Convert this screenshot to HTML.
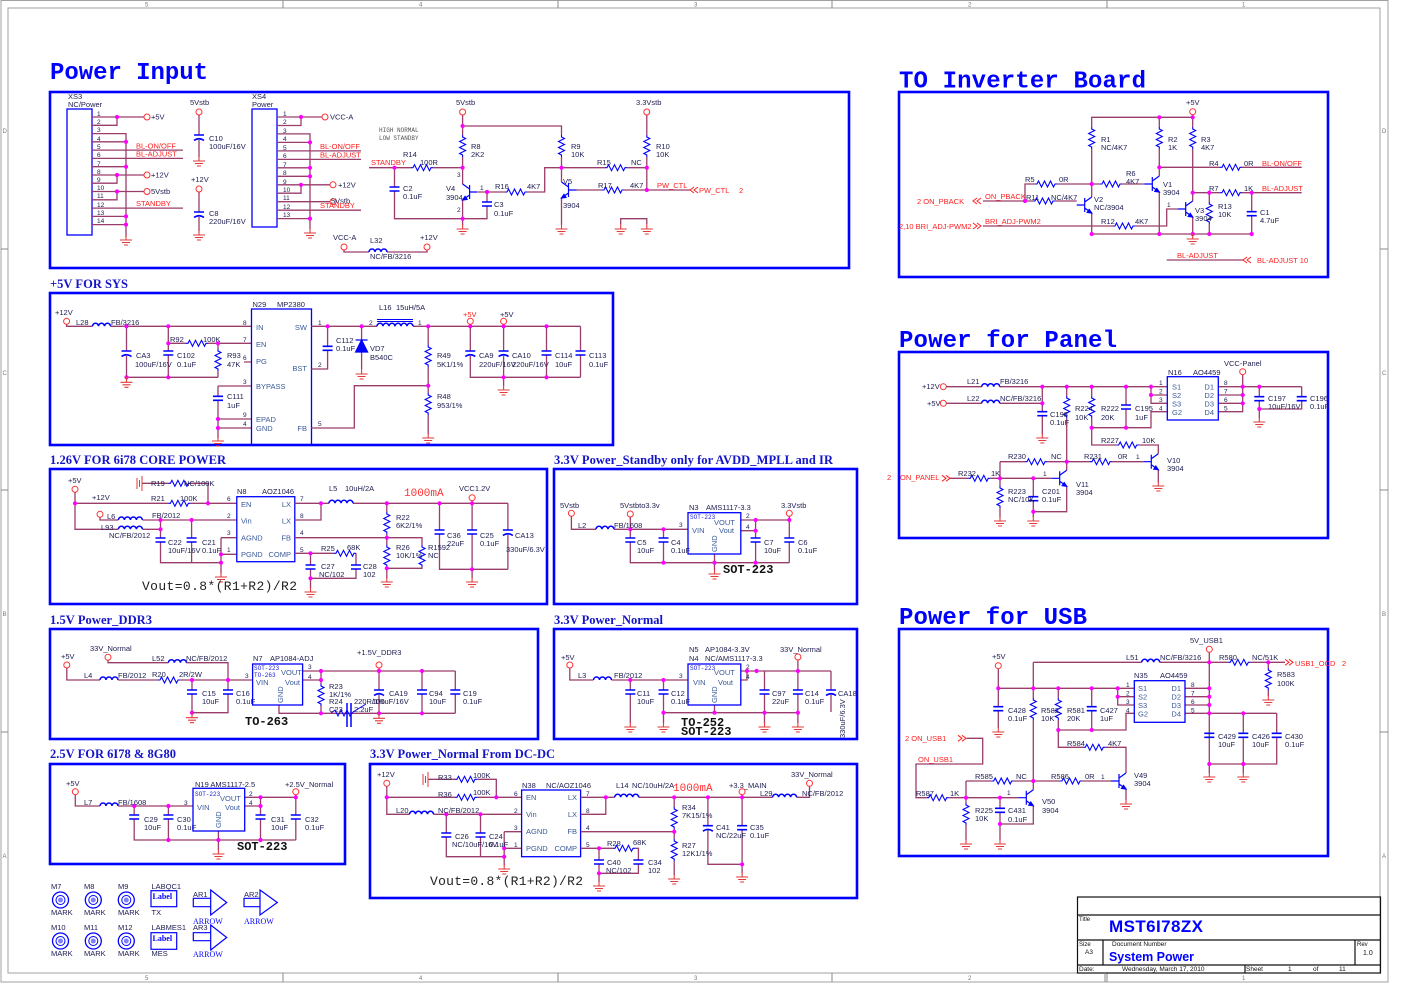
<!DOCTYPE html>
<html><head><meta charset="utf-8"><title>MST6I78ZX System Power</title>
<style>
html,body{margin:0;padding:0;background:#fff}
svg{display:block}
.t{font-family:"Liberation Sans",sans-serif;font-size:7.5px;fill:#1c1c50}
.n{font-family:"Liberation Sans",sans-serif;font-size:7.5px;fill:#ff2020}
.p{font-family:"Liberation Sans",sans-serif;font-size:6.5px;fill:#1c1c50}
.i{font-family:"Liberation Sans",sans-serif;font-size:7.5px;fill:#3a5a9a}
.sm{font-family:"Liberation Mono",monospace;font-size:6px;fill:#2020d0}
.bm{font-family:"Liberation Mono",monospace;font-size:12px;font-weight:bold;fill:#101010}
.T{font-family:"Liberation Mono",monospace;font-weight:bold;font-size:24px;fill:#0000ff}
.S{font-family:"Liberation Serif",serif;font-weight:bold;font-size:12.5px;fill:#1414c8}
.z{font-family:"Liberation Sans",sans-serif;font-size:6px;fill:#777}
.w{fill:none;stroke:#9a3d6b;stroke-width:1.3}
.bx{fill:none;stroke:#0000ff;stroke-width:2.6}
.ic{fill:none;stroke:#0000ff;stroke-width:1.3}
.ch{fill:none;stroke:#ff2020;stroke-width:1}
</style></head><body>
<svg width="1404" height="993" viewBox="0 0 1404 993" xmlns="http://www.w3.org/2000/svg">
<defs>
<polyline id="rv" points="0,0 0,2 3,3.5 -3,6.5 3,9.5 -3,12.5 3,15.5 -3,18.5 0,20 0,22" fill="none" stroke="#0000ff" stroke-width="1.1"/>
<polyline id="rh" points="0,0 2,0 3.5,-3 6.5,3 9.5,-3 12.5,3 15.5,-3 18.5,3 20,0 22,0" fill="none" stroke="#0000ff" stroke-width="1.1"/>
<path id="cv" d="M-5,0 H5 M-5,4 H5" fill="none" stroke="#0000ff" stroke-width="1.6"/>
<path id="cp" d="M-5,0 H5 M-5,5.5 Q0,2 5,5.5" fill="none" stroke="#0000ff" stroke-width="1.6"/>
<path id="gnd" d="M0,0 V5 M-6,5 H6 M-4,7.5 H4 M-2,10 H2" fill="none" stroke="#e03a3a" stroke-width="1.1"/>
<path id="ind" d="M0,0 a3,3 0 0 1 6,0 a3,3 0 0 1 6,0 a3,3 0 0 1 6,0" fill="none" stroke="#0000ff" stroke-width="1.5"/>
<path id="ind4" d="M0,0 a3,3 0 0 1 6,0 a3,3 0 0 1 6,0 a3,3 0 0 1 6,0 a3,3 0 0 1 6,0" fill="none" stroke="#0000ff" stroke-width="1.5"/>
<g id="npn" fill="none" stroke="#0000ff" stroke-width="1.2"><path d="M-8,0 H0 M0,-7 V7 M0,-3 L7,-8 M0,3 L7,8"/><path d="M7,8 l-4.5,-0.6 l2,-3 z" fill="#0000ff"/></g>
<circle id="d" r="2.1" fill="#ff00ff"/>
<circle id="o" r="3" fill="#fff" stroke="#ff3030" stroke-width="1"/>
<path id="cr" d="M0,-3 l4,3 l-4,3 M4,-3 l4,3 l-4,3" fill="none" stroke="#ff2020" stroke-width="1"/>
<path id="cl" d="M8,-3 l-4,3 l4,3 M4,-3 l-4,3 l4,3" fill="none" stroke="#ff2020" stroke-width="1"/>
<g id="mk"><circle r="8" fill="none" stroke="#0000ff" stroke-width="1.3"/><circle r="4.5" fill="none" stroke="#0000ff" stroke-width="1"/><circle r="2.5" fill="#8080ff"/></g>
</defs>

<!-- frame -->
<rect x="1" y="0.5" width="1387" height="981.5" fill="none" stroke="#a0a0a0" stroke-width="1"/>
<rect x="8" y="8" width="1372" height="965" fill="none" stroke="#a0a0a0" stroke-width="1"/>
<path d="M283,0.5V8 M558,0.5V8 M832,0.5V8 M1107,0.5V8 M283,973V982 M558,973V982 M832,973V982 M1107,973V982 M1,249H8 M1,490H8 M1,732H8 M1380,249H1388 M1380,490H1388 M1380,732H1388" stroke="#888" stroke-width="1"/>
<text class="z" x="145" y="6.5">5</text><text class="z" x="419" y="6.5">4</text><text class="z" x="694" y="6.5">3</text><text class="z" x="968" y="6.5">2</text><text class="z" x="1242" y="6.5">1</text>
<text class="z" x="145" y="980">5</text><text class="z" x="419" y="980">4</text><text class="z" x="694" y="980">3</text><text class="z" x="968" y="980">2</text><text class="z" x="1242" y="980">1</text>
<text class="z" x="2.5" y="133">D</text><text class="z" x="2.5" y="375">C</text><text class="z" x="2.5" y="616">B</text><text class="z" x="2.5" y="858">A</text>
<text class="z" x="1382" y="133">D</text><text class="z" x="1382" y="375">C</text><text class="z" x="1382" y="616">B</text><text class="z" x="1382" y="858">A</text>

<!-- ============ POWER INPUT ============ -->
<text class="T" x="50" y="79" textLength="158">Power Input</text>
<rect class="bx" x="50" y="92" width="799" height="176"/>
<rect class="ic" x="67" y="109" width="25" height="126"/>
<text class="t" x="68" y="99">XS3</text><text class="t" x="68" y="107">NC/Power</text>
<g class="p"><text x="97" y="116">1</text><text x="97" y="124">2</text><text x="97" y="132">3</text><text x="97" y="141">4</text><text x="97" y="149">5</text><text x="97" y="157">6</text><text x="97" y="166">7</text><text x="97" y="174">8</text><text x="97" y="182">9</text><text x="97" y="190">10</text><text x="97" y="198">11</text><text x="97" y="207">12</text><text x="97" y="215">13</text><text x="97" y="223">14</text></g>
<path class="w" d="M92,117H144 M92,125.3H117V117 M92,133.6H126V237 M92,141.8H126 M92,150.1H183 M92,158.4H183 M92,166.7H126 M92,175H144 M92,183.2H117V175 M92,191.5H144 M92,199.8H117V191.5 M92,208.1H183 M92,216.4H126 M92,224.6H126"/>
<use href="#d" x="117" y="117"/><use href="#d" x="126" y="141.8"/><use href="#d" x="126" y="166.7"/><use href="#d" x="117" y="175"/><use href="#d" x="117" y="191.5"/><use href="#d" x="126" y="216.4"/><use href="#d" x="126" y="224.6"/>
<use href="#o" x="147" y="117"/><use href="#o" x="147" y="175"/><use href="#o" x="147" y="191.5"/>
<text class="t" x="151" y="119.5">+5V</text><text class="t" x="151" y="177.5">+12V</text><text class="t" x="151" y="194">5Vstb</text>
<text class="n" x="136" y="148.5">BL-ON/OFF</text><text class="n" x="136" y="156.5">BL-ADJUST</text><text class="n" x="136" y="206">STANDBY</text>
<use href="#gnd" x="126" y="235"/>
<!-- C10 C8 -->
<text class="t" x="190" y="105">5Vstb</text><use href="#o" x="199" y="112"/>
<path class="w" d="M199,115V135 M199,140V157"/><use href="#cp" x="199" y="135"/><use href="#gnd" x="199" y="156"/>
<text class="t" x="209" y="141">C10</text><text class="t" x="209" y="149">100uF/16V</text>
<text class="t" x="191" y="182">+12V</text><use href="#o" x="199" y="189"/>
<path class="w" d="M199,192V212 M199,217V231"/><use href="#cp" x="199" y="212"/><use href="#gnd" x="199" y="230"/>
<text class="t" x="209" y="216">C8</text><text class="t" x="209" y="224">220uF/16V</text>
<!-- XS4 -->
<rect class="ic" x="252" y="109" width="25" height="118"/>
<text class="t" x="252" y="99">XS4</text><text class="t" x="252" y="107">Power</text>
<g class="p"><text x="283" y="116">1</text><text x="283" y="124">2</text><text x="283" y="133">3</text><text x="283" y="141">4</text><text x="283" y="150">5</text><text x="283" y="158">6</text><text x="283" y="167">7</text><text x="283" y="175">8</text><text x="283" y="184">9</text><text x="283" y="192">10</text><text x="283" y="200">11</text><text x="283" y="209">12</text><text x="283" y="217">13</text></g>
<path class="w" d="M277,117H322 M277,125.5H301V117 M277,133.9H310V229 M277,142.4H310 M277,150.9H361 M277,159.4H361 M277,167.8H310 M277,176.3H310 M277,184.8H330 M277,193.2H301V184.8 M277,201.7H330 M277,210.2H361 M277,218.6H310"/>
<use href="#d" x="301" y="117"/><use href="#d" x="310" y="142.4"/><use href="#d" x="310" y="167.8"/><use href="#d" x="310" y="176.3"/><use href="#d" x="301" y="184.8"/><use href="#d" x="310" y="218.6"/>
<use href="#o" x="325" y="117"/><use href="#o" x="333" y="184.8"/><use href="#o" x="333" y="201.7"/>
<text class="t" x="330" y="119.5">VCC-A</text><text class="t" x="338" y="187.5">+12V</text><text class="t" x="331" y="203.5">5Vstb</text>
<text class="n" x="320" y="149">BL-ON/OFF</text><text class="n" x="320" y="157.5">BL-ADJUST</text><text class="n" x="320" y="208">STANDBY</text>
<use href="#gnd" x="310" y="228"/>
<!-- standby circuit -->
<text class="sm" x="379" y="132" style="fill:#555">HIGH NORMAL</text><text class="sm" x="379" y="140" style="fill:#555">LOW  STANDBY</text>
<path class="w" d="M369,167.7H411 M433,167.7H462.6 M394.5,167.7V187 M394.5,191V218.7H487V206 M462.6,115V135 M462.6,157V184 M462.6,200V225 M462.6,126H561.5V135 M478,192H505 M527,192H544.7V167.7H605 M627,167.7H646.8 M487,192V202"/>
<use href="#rh" x="411" y="167.7"/><use href="#cv" x="394.5" y="187"/><use href="#rv" x="462.6" y="135"/><use href="#rh" x="505" y="192"/><use href="#cv" x="487" y="202"/>
<use href="#d" x="394.5" y="167.7"/><use href="#d" x="462.6" y="126"/><use href="#d" x="462.6" y="167.7"/><use href="#d" x="487" y="192"/><use href="#d" x="462.6" y="218.7"/>
<use href="#npn" transform="translate(469.6,192) scale(-1,1)"/>
<use href="#gnd" x="462.6" y="224"/>
<text class="n" x="371" y="165">STANDBY</text><text class="t" x="403" y="157">R14</text><text class="t" x="420" y="165">100R</text>
<text class="t" x="403" y="191">C2</text><text class="t" x="403" y="199">0.1uF</text>
<text class="t" x="456" y="105">5Vstb</text><use href="#o" x="462.6" y="112"/>
<text class="t" x="471" y="149">R8</text><text class="t" x="471" y="157">2K2</text>
<text class="t" x="446" y="191">V4</text><text class="t" x="446" y="200">3904</text>
<text class="p" x="457" y="177">3</text><text class="p" x="480" y="190">1</text><text class="p" x="457" y="212">2</text>
<text class="t" x="495" y="189">R16</text><text class="t" x="527" y="189">4K7</text>
<text class="t" x="494" y="207">C3</text><text class="t" x="494" y="216">0.1uF</text>
<!-- V5 -->
<path class="w" d="M561.5,157V182 M561.5,198V225 M576.5,190H602 M624,190H690 M646.8,115V135 M646.8,157V190"/>
<use href="#rv" x="561.5" y="135"/><use href="#rh" x="605" y="167.7"/><use href="#rh" x="602" y="190"/><use href="#rv" x="646.8" y="135"/>
<use href="#npn" transform="translate(568.5,190) scale(-1,1)"/>
<use href="#d" x="561.5" y="167.7"/><use href="#d" x="646.8" y="167.7"/><use href="#d" x="646.8" y="190"/>
<use href="#gnd" x="561.5" y="224"/>
<text class="t" x="571" y="149">R9</text><text class="t" x="571" y="157">10K</text>
<text class="t" x="597" y="165">R15</text><text class="t" x="631" y="165">NC</text>
<text class="t" x="636" y="105">3.3Vstb</text><use href="#o" x="646.8" y="112"/>
<text class="t" x="656" y="149">R10</text><text class="t" x="656" y="157">10K</text>
<text class="t" x="563" y="184">V5</text><text class="t" x="563" y="208">3904</text>
<text class="t" x="598" y="188">R17</text><text class="t" x="630" y="188">4K7</text>
<text class="n" x="657" y="188">PW_CTL</text><use href="#cl" x="690" y="190"/><text class="n" x="699" y="193">PW_CTL</text><text class="n" x="739" y="193">2</text>
<path class="w" d="M620.7,224V218.7H646.8V224"/><use href="#gnd" x="620.7" y="224"/><use href="#gnd" x="646.8" y="224"/>
<!-- L32 -->
<text class="t" x="333" y="240">VCC-A</text><use href="#o" x="344" y="247"/>
<path class="w" d="M344,250V252H369 M387,252H427V250"/><use href="#ind" x="369" y="252"/>
<use href="#o" x="427" y="247"/><text class="t" x="420" y="240">+12V</text>
<text class="t" x="370" y="243">L32</text><text class="t" x="370" y="259">NC/FB/3216</text>

<!-- ============ TO INVERTER BOARD ============ -->
<text class="T" x="899" y="87.5" textLength="247">TO Inverter Board</text>
<rect class="bx" x="899" y="92" width="429" height="185"/>
<text class="t" x="1186" y="105">+5V</text><use href="#o" x="1192.7" y="111.7"/>
<path class="w" d="M1091.7,127V117.3H1192.7V114.7 M1159.3,117.3V127 M1192.7,117.3V127 M1091.7,149V197 M1159.3,149V176 M1192.7,149V201 M1159.3,167.3H1220 M1242,167.3H1301.7 M1025,201V184H1035 M1057,184H1100 M1122,184H1144.3 M983,201H1033 M1055,201H1076.7 M983,226H1113 M1135,226H1166.7V209H1177.7 M1192.7,192.7H1220 M1242,192.7H1301.7 M1209.3,192.7V202 M1209.3,224V234 M1251.7,192.7V211.7 M1251.7,215.7V234 M1091.7,213V234H1251.7 M1159.3,192V234 M1192.7,217V234 M1166.7,260H1243"/>
<use href="#rv" x="1091.7" y="127"/><use href="#rv" x="1159.3" y="127"/><use href="#rv" x="1192.7" y="127"/>
<use href="#rh" x="1220" y="167.3"/><use href="#rh" x="1035" y="184"/><use href="#rh" x="1100" y="184"/><use href="#rh" x="1033" y="201"/><use href="#rh" x="1113" y="226"/><use href="#rh" x="1220" y="192.7"/>
<use href="#rv" x="1209.3" y="202"/><use href="#cv" x="1251.7" y="211.7"/>
<use href="#npn" x="1152.3" y="184"/><use href="#npn" x="1084.7" y="205"/><use href="#npn" x="1185.7" y="209"/>
<use href="#d" x="1159.3" y="117.3"/><use href="#d" x="1192.7" y="117.3"/><use href="#d" x="1159.3" y="167.3"/><use href="#d" x="1091.7" y="184"/><use href="#d" x="1025" y="201"/><use href="#d" x="1192.7" y="192.7"/><use href="#d" x="1209.3" y="192.7"/><use href="#d" x="1251.7" y="192.7"/><use href="#d" x="1159.3" y="234"/><use href="#d" x="1192.7" y="234"/><use href="#d" x="1209.3" y="234"/><use href="#d" x="1251.7" y="234"/><use href="#d" x="1091.7" y="234"/>
<use href="#gnd" x="1192.7" y="234"/>
<text class="t" x="1101" y="142">R1</text><text class="t" x="1101" y="150">NC/4K7</text>
<text class="t" x="1168" y="142">R2</text><text class="t" x="1168" y="150">1K</text>
<text class="t" x="1201" y="142">R3</text><text class="t" x="1201" y="150">4K7</text>
<text class="t" x="1209" y="166">R4</text><text class="t" x="1244" y="166">0R</text><text class="n" x="1262" y="166">BL-ON/OFF</text>
<text class="t" x="1025" y="182">R5</text><text class="t" x="1059" y="182">0R</text>
<text class="t" x="1126" y="176">R6</text><text class="t" x="1126" y="184">4K7</text>
<text class="t" x="1163" y="187">V1</text><text class="t" x="1163" y="195">3904</text>
<text class="n" x="917" y="204">2  ON_PBACK</text><use href="#cl" x="973" y="201"/><text class="n" x="985" y="199">ON_PBACK</text>
<text class="t" x="1026" y="200">R11</text><text class="t" x="1051" y="200">NC/4K7</text>
<text class="t" x="1094" y="202">V2</text><text class="t" x="1094" y="210">NC/3904</text>
<text class="n" x="899" y="229">2,10  BRI_ADJ-PWM2</text><use href="#cr" x="973" y="226"/><text class="n" x="985" y="224">BRI_ADJ-PWM2</text>
<text class="t" x="1101" y="224">R12</text><text class="t" x="1135" y="224">4K7</text>
<text class="p" x="1167" y="207">1</text><text class="t" x="1195" y="213">V3</text><text class="t" x="1195" y="221">3904</text>
<text class="t" x="1209" y="191">R7</text><text class="t" x="1244" y="191">1K</text><text class="n" x="1262" y="191">BL-ADJUST</text>
<text class="t" x="1218" y="209">R13</text><text class="t" x="1218" y="217">10K</text>
<text class="t" x="1260" y="215">C1</text><text class="t" x="1260" y="223">4.7uF</text>
<text class="n" x="1177" y="258">BL-ADJUST</text><use href="#cl" x="1243" y="260"/><text class="n" x="1257" y="263">BL-ADJUST   10</text>

<!-- ============ +5V FOR SYS ============ -->
<text class="S" x="50" y="288" textLength="78">+5V FOR SYS</text>
<rect class="bx" x="50" y="293" width="563" height="152"/>
<text class="t" x="55" y="315">+12V</text><use href="#o" x="66.6" y="321.3"/>
<path class="w" d="M66.6,324.3V326.3H92.5 M110.5,326.3H251.5 M126.5,326.3V351 M126.5,356V377.3H218 M168.3,326.3V351 M168.3,355V377.3 M168.3,343.3H186 M208,343.3H251.5 M218,343.3V349 M218,371V377.3 M218,386H251.5 M218,386V396.3 M218,400.3V438 M218,419H251.5 M218,428H251.5 M244,362H251.5"/>
<use href="#ind" x="92.5" y="326.3"/><use href="#cp" x="126.5" y="351"/><use href="#cv" x="168.3" y="351"/><use href="#rh" x="186" y="343.3"/><use href="#rv" x="218" y="349"/><use href="#cv" x="218" y="396.3"/>
<use href="#d" x="126.5" y="326.3"/><use href="#d" x="168.3" y="326.3"/><use href="#d" x="168.3" y="343.3"/><use href="#d" x="218" y="343.3"/><use href="#d" x="126.5" y="377.3"/><use href="#d" x="168.3" y="377.3"/><use href="#d" x="218" y="419"/><use href="#d" x="218" y="428"/>
<use href="#gnd" x="126.5" y="377.3"/><use href="#gnd" x="218" y="436"/>
<text class="t" x="76" y="325">L28</text><text class="t" x="111" y="325">FB/3216</text>
<text class="t" x="136" y="358">CA3</text><text class="t" x="135" y="367">100uF/16V</text>
<text class="t" x="177" y="358">C102</text><text class="t" x="177" y="367">0.1uF</text>
<text class="t" x="170" y="342">R92</text><text class="t" x="203" y="342">100K</text>
<text class="t" x="227" y="358">R93</text><text class="t" x="227" y="367">47K</text>
<text class="t" x="227" y="399">C111</text><text class="t" x="227" y="408">1uF</text>
<rect class="ic" x="251.5" y="309" width="60" height="136"/>
<text class="t" x="252.5" y="307">N29</text><text class="t" x="277" y="307">MP2380</text>
<text class="i" x="256" y="330">IN</text><text class="i" x="256" y="347">EN</text><text class="i" x="256" y="364">PG</text><text class="i" x="256" y="389">BYPASS</text><text class="i" x="256" y="422">EPAD</text><text class="i" x="256" y="431">GND</text>
<text class="i" x="307" y="330" text-anchor="end">SW</text><text class="i" x="307" y="371" text-anchor="end">BST</text><text class="i" x="307" y="431" text-anchor="end">FB</text>
<g class="p"><text x="243" y="325">8</text><text x="243" y="342">7</text><text x="243" y="360">6</text><text x="243" y="384">3</text><text x="243" y="417">9</text><text x="243" y="426">4</text><text x="318" y="325">1</text><text x="318" y="367">2</text><text x="318" y="426">5</text><text x="369" y="325">2</text><text x="418" y="325">1</text></g>
<path class="w" d="M311.4,326.3H377 M413,326.3H580.5 M327.6,326.3V346.3 M327.6,350.3V369H311.4 M361.6,326.3V340 M361.6,352V369 M428.2,326.3V345 M428.2,367V393 M428.2,415V434 M311.4,428H354.3V385.7H428.2 M470.3,324.3V351 M470.3,356V377.3H580.5 M503.6,324.3V351 M503.6,356V386 M546.5,326.3V351 M546.5,355V377.3 M580.5,326.3V351 M580.5,355V377.3"/>
<use href="#ind" x="377" y="326.3"/><use href="#ind" x="395" y="326.3"/>
<path d="M377,319.5H413 M377,321.5H413" stroke="#0000ff" stroke-width="1"/>
<use href="#cv" x="327.6" y="346.3"/>
<path d="M355.6,340H367.6 M361.6,340L355.6,352H367.6Z" fill="#0000ff" stroke="#0000ff" stroke-width="1.2"/>
<use href="#rv" x="428.2" y="345"/><use href="#rv" x="428.2" y="393"/>
<use href="#cp" x="470.3" y="351"/><use href="#cp" x="503.6" y="351"/><use href="#cv" x="546.5" y="351"/><use href="#cv" x="580.5" y="351"/>
<use href="#d" x="327.6" y="326.3"/><use href="#d" x="361.6" y="326.3"/><use href="#d" x="428.2" y="326.3"/><use href="#d" x="470.3" y="326.3"/><use href="#d" x="503.6" y="326.3"/><use href="#d" x="546.5" y="326.3"/><use href="#d" x="428.2" y="385.7"/><use href="#d" x="503.6" y="377.3"/><use href="#d" x="546.5" y="377.3"/>
<use href="#gnd" x="361.6" y="369"/><use href="#gnd" x="428.2" y="433"/><use href="#gnd" x="503.6" y="385"/>
<text class="t" x="379" y="310">L16</text><text class="t" x="396" y="310">15uH/5A</text>
<text class="t" x="336" y="343">C112</text><text class="t" x="336" y="351">0.1uF</text>
<text class="t" x="370" y="351">VD7</text><text class="t" x="370" y="360">B540C</text>
<text class="t" x="437" y="358">R49</text><text class="t" x="437" y="367">5K1/1%</text>
<text class="t" x="437" y="399">R48</text><text class="t" x="437" y="408">953/1%</text>
<text class="n" x="463" y="317">+5V</text><use href="#o" x="470.3" y="321.3"/>
<text class="t" x="500" y="317">+5V</text><use href="#o" x="503.6" y="321.3"/>
<text class="t" x="479" y="358">CA9</text><text class="t" x="479" y="367">220uF/16V</text>
<text class="t" x="512" y="358">CA10</text><text class="t" x="512" y="367">220uF/16V</text>
<text class="t" x="555" y="358">C114</text><text class="t" x="555" y="367">10uF</text>
<text class="t" x="589" y="358">C113</text><text class="t" x="589" y="367">0.1uF</text>

<!-- ============ POWER FOR PANEL ============ -->
<text class="T" x="899" y="347" textLength="218">Power for Panel</text>
<rect class="bx" x="899" y="352" width="429" height="186"/>
<text class="t" x="922" y="389">+12V</text><use href="#o" x="943.3" y="386.7"/>
<text class="t" x="927" y="406">+5V</text><use href="#o" x="943.3" y="403.3"/>
<path class="w" d="M946.3,386.7H981.7 M999.7,386.7H1167.3 M946.3,403.3H981.7 M999.7,403.3H1042.3 M1042.3,386.7V411.7 M1042.3,415.7V434 M1066.7,386.7V396 M1066.7,418V461.7 M1091.7,386.7V396 M1091.7,418V445H1116.7 M1138.7,445H1158.3V453.7 M1126,386.7V405 M1126,409V427.7 M1091.7,427.7H1151V411.7H1167.3 M1151,386.7V403.3H1167.3 M1151,395H1167.3 M1218.3,386.7H1301.7 M1218.3,395H1242.7 M1218.3,403.3H1242.7 M1218.3,411.7H1242.7V374.7 M1259.3,386.7V396.7 M1259.3,400.7V418 M1301.7,386.7V396.7 M1301.7,400.7V409H1259.3"/>
<use href="#ind" x="981.7" y="386.7"/><use href="#ind" x="981.7" y="403.3"/><use href="#cv" x="1042.3" y="411.7"/><use href="#rv" x="1066.7" y="396"/><use href="#rv" x="1091.7" y="396"/><use href="#cv" x="1126" y="405"/><use href="#rh" x="1116.7" y="445"/><use href="#cv" x="1259.3" y="396.7"/><use href="#cv" x="1301.7" y="396.7"/>
<use href="#d" x="1042.3" y="386.7"/><use href="#d" x="1066.7" y="386.7"/><use href="#d" x="1091.7" y="386.7"/><use href="#d" x="1126" y="386.7"/><use href="#d" x="1151" y="386.7"/><use href="#d" x="1151" y="395"/><use href="#d" x="1042.3" y="403.3"/><use href="#d" x="1091.7" y="427.7"/><use href="#d" x="1126" y="427.7"/><use href="#d" x="1242.7" y="386.7"/><use href="#d" x="1242.7" y="395"/><use href="#d" x="1242.7" y="403.3"/><use href="#d" x="1259.3" y="386.7"/><use href="#d" x="1259.3" y="409"/>
<use href="#gnd" x="1042.3" y="433"/><use href="#gnd" x="1259.3" y="417"/>
<text class="t" x="967" y="384">L21</text><text class="t" x="1000" y="384">FB/3216</text>
<text class="t" x="967" y="401">L22</text><text class="t" x="1000" y="401">NC/FB/3216</text>
<text class="t" x="1050" y="417">C198</text><text class="t" x="1050" y="425">0.1uF</text>
<text class="t" x="1075" y="411">R224</text><text class="t" x="1075" y="420">10K</text>
<text class="t" x="1101" y="411">R222</text><text class="t" x="1101" y="420">20K</text>
<text class="t" x="1135" y="411">C195</text><text class="t" x="1135" y="420">1uF</text>
<rect class="ic" x="1167.3" y="376.7" width="51" height="43.3"/>
<text class="t" x="1168" y="375">N16</text><text class="t" x="1193" y="375">AO4459</text>
<text class="i" x="1172" y="389.5">S1</text><text class="i" x="1172" y="398">S2</text><text class="i" x="1172" y="406.5">S3</text><text class="i" x="1172" y="415">G2</text>
<text class="i" x="1214" y="389.5" text-anchor="end">D1</text><text class="i" x="1214" y="398" text-anchor="end">D2</text><text class="i" x="1214" y="406.5" text-anchor="end">D3</text><text class="i" x="1214" y="415" text-anchor="end">D4</text>
<g class="p"><text x="1159" y="385">1</text><text x="1159" y="393.5">2</text><text x="1159" y="402">3</text><text x="1159" y="410.5">4</text><text x="1224" y="385">8</text><text x="1224" y="393.5">7</text><text x="1224" y="402">6</text><text x="1224" y="410.5">5</text></g>
<text class="t" x="1224" y="366">VCC-Panel</text><use href="#o" x="1242.7" y="371.7"/>
<text class="t" x="1268" y="401">C197</text><text class="t" x="1268" y="409">10uF/16V</text>
<text class="t" x="1310" y="401">C196</text><text class="t" x="1310" y="409">0.1uF</text>
<text class="t" x="1101" y="443">R227</text><text class="t" x="1142" y="443">10K</text>
<path class="w" d="M1000,461.7H1025 M1047,461.7H1090 M1112,461.7H1143.3 M1000,461.7V478.3 M950,478.3H968.3 M990.3,478.3H1051.7 M1066.7,461.7V470.3 M1066.7,486.3V511.7H1033.3 M1158.3,469.7V482 M1000,478.3V486 M1000,508V517 M1033.3,478.3V496.7 M1033.3,500.7V517"/>
<use href="#rh" x="1025" y="461.7"/><use href="#rh" x="1090" y="461.7"/><use href="#rh" x="968.3" y="478.3"/><use href="#rv" x="1000" y="486"/><use href="#cv" x="1033.3" y="496.7"/>
<use href="#npn" x="1151.3" y="461.7"/><use href="#npn" x="1059.7" y="478.3"/>
<use href="#d" x="1066.7" y="461.7"/><use href="#d" x="1000" y="478.3"/><use href="#d" x="1033.3" y="478.3"/><use href="#d" x="1033.3" y="511.7"/>
<use href="#gnd" x="1158.3" y="481"/><use href="#gnd" x="1000" y="516"/><use href="#gnd" x="1033.3" y="516"/>
<text class="t" x="1008" y="459">R230</text><text class="t" x="1051" y="459">NC</text>
<text class="t" x="1084" y="459">R231</text><text class="t" x="1118" y="459">0R</text><text class="p" x="1136" y="459">1</text>
<text class="t" x="1167" y="463">V10</text><text class="t" x="1167" y="471">3904</text>
<text class="n" x="887" y="480">2</text><text class="n" x="900" y="480">ON_PANEL</text><use href="#cr" x="942" y="478.3"/>
<text class="t" x="958" y="476">R232</text><text class="t" x="991" y="476">1K</text><text class="p" x="1043" y="476">1</text>
<text class="t" x="1076" y="487">V11</text><text class="t" x="1076" y="495">3904</text>
<text class="t" x="1008" y="494">R223</text><text class="t" x="1008" y="502">NC/10K</text>
<text class="t" x="1042" y="494">C201</text><text class="t" x="1042" y="502">0.1uF</text>

<!-- ============ 1.26V CORE ============ -->
<text class="S" x="50" y="464" textLength="176">1.26V FOR 6i78 CORE POWER</text>
<rect class="bx" x="50" y="469" width="497" height="135"/>
<text class="t" x="68" y="483">+5V</text><use href="#o" x="75" y="489.3"/>
<path class="w" d="M75,492.3V529.3H118.4 M142.4,529.3H160.5V520 M75,503.3H168.4 M190.4,503.3H236.8 M142,483.3H168.4 M190.4,483.3H208V503.3 M100,517.3V520H118.4 M142.4,520H236.8 M160.5,529.3V538 M160.5,542V562.7H221 M191.6,520V538 M191.6,542V562.7 M221,537.7V573 M221,537.7H236.8 M221,554.3H236.8"/>
<path d="M137,478V489 M139.5,480V487 M142,476V491" stroke="#e03a3a" stroke-width="1"/>
<use href="#rh" x="168.4" y="483.3"/><use href="#rh" x="168.4" y="503.3"/><use href="#ind4" x="118.4" y="520"/><use href="#ind4" x="118.4" y="529.3"/><use href="#cv" x="160.5" y="538"/><use href="#cv" x="191.6" y="538"/>
<use href="#d" x="75" y="503.3"/><use href="#d" x="208" y="503.3"/><use href="#d" x="160.5" y="520"/><use href="#d" x="191.6" y="520"/><use href="#d" x="160.5" y="529.3"/><use href="#d" x="221" y="554.3"/><use href="#d" x="221" y="562.7"/>
<use href="#gnd" x="221" y="572"/>
<text class="t" x="151" y="486">R19</text><text class="t" x="184" y="486">NC/100K</text>
<text class="t" x="151" y="501">R21</text><text class="t" x="180" y="501">100K</text>
<text class="t" x="92" y="500">+12V</text><use href="#o" x="100" y="514.3"/>
<text class="t" x="107" y="519">L6</text><text class="t" x="152" y="518">FB/2012</text>
<text class="t" x="101" y="530">L93</text><text class="t" x="109" y="538">NC/FB/2012</text>
<text class="t" x="168" y="545">C22</text><text class="t" x="168" y="553">10uF/16V</text>
<text class="t" x="202" y="545">C21</text><text class="t" x="202" y="553">0.1uF</text>
<rect class="ic" x="236.8" y="496.7" width="58" height="65"/>
<text class="t" x="237" y="494">N8</text><text class="t" x="262" y="494">AOZ1046</text>
<text class="i" x="241" y="507">EN</text><text class="i" x="241" y="523.5">Vin</text><text class="i" x="241" y="540.5">AGND</text><text class="i" x="241" y="557">PGND</text>
<text class="i" x="291" y="507" text-anchor="end">LX</text><text class="i" x="291" y="523.5" text-anchor="end">LX</text><text class="i" x="291" y="540.5" text-anchor="end">FB</text><text class="i" x="291" y="557" text-anchor="end">COMP</text>
<g class="p"><text x="227" y="501">6</text><text x="227" y="518">2</text><text x="227" y="535">3</text><text x="227" y="552">1</text><text x="300" y="501">7</text><text x="300" y="518">8</text><text x="300" y="535">4</text><text x="300" y="552">5</text></g>
<path class="w" d="M294.8,503.3H329 M353,503.3H507.9 M294.8,520H321V503.3 M386.8,503.3V512 M386.8,534V545 M386.8,567V578 M294.8,537.7H422V545 M422,567V568.3H386.8 M439.5,503.3V530 M439.5,534V569.3H507.9 M472.1,500.7V530 M472.1,534V578 M507.9,503.3V530 M507.9,535V569.3 M294.8,553.3H334 M356,553.3V565 M310.5,553.3V565 M310.5,569V588 M356,569V578.3H310.5"/>
<use href="#ind4" x="329" y="503.3"/><use href="#rv" x="386.8" y="512"/><use href="#rv" x="386.8" y="545"/><use href="#rv" x="422" y="545"/><use href="#cv" x="439.5" y="530"/><use href="#cv" x="472.1" y="530"/><use href="#cp" x="507.9" y="530"/><use href="#rh" x="334" y="553.3"/><use href="#cv" x="310.5" y="565"/><use href="#cv" x="356" y="565"/>
<use href="#d" x="321" y="503.3"/><use href="#d" x="386.8" y="503.3"/><use href="#d" x="439.5" y="503.3"/><use href="#d" x="472.1" y="503.3"/><use href="#d" x="386.8" y="537.7"/><use href="#d" x="386.8" y="568.3"/><use href="#d" x="472.1" y="569.3"/><use href="#d" x="310.5" y="553.3"/><use href="#d" x="310.5" y="578.3"/>
<use href="#gnd" x="386.8" y="577"/><use href="#gnd" x="472.1" y="577"/><use href="#gnd" x="310.5" y="587"/>
<text class="t" x="329" y="491">L5</text><text class="t" x="345" y="491">10uH/2A</text>
<text x="404" y="496" style="font-family:'Liberation Mono',monospace;font-size:11px;fill:#ff3030">1000mA</text>
<text class="t" x="459" y="491">VCC1.2V</text><use href="#o" x="472.1" y="497.7"/>
<text class="t" x="396" y="520">R22</text><text class="t" x="396" y="528">6K2/1%</text>
<text class="t" x="396" y="550">R26</text><text class="t" x="396" y="558">10K/1%</text>
<text class="t" x="428" y="550">R1592</text><text class="t" x="428" y="558">NC</text>
<text class="t" x="447" y="538">C36</text><text class="t" x="447" y="546">22uF</text>
<text class="t" x="480" y="538">C25</text><text class="t" x="480" y="546">0.1uF</text>
<text class="t" x="515" y="538">CA13</text><text class="t" x="506" y="552">330uF/6.3V</text>
<text class="t" x="321" y="551">R25</text><text class="t" x="347" y="550">68K</text>
<text class="t" x="321" y="569">C27</text><text class="t" x="319" y="577">NC/102</text>
<text class="t" x="363" y="569">C28</text><text class="t" x="363" y="577">102</text>
<text x="142" y="590" textLength="155" style="font-family:'Liberation Mono',monospace;font-size:13px;fill:#222">Vout=0.8*(R1+R2)/R2</text>

<!-- ============ 3.3V STANDBY ============ -->
<text class="S" x="554" y="464" textLength="279">3.3V Power_Standby only for AVDD_MPLL and IR</text>
<rect class="bx" x="554" y="469" width="303" height="135"/>
<text class="t" x="560" y="508">5Vstb</text><use href="#o" x="571.4" y="513.3"/>
<text class="t" x="620" y="508">5Vstbto3.3v</text><use href="#o" x="630.3" y="514"/>
<path class="w" d="M571.4,516.3V529.3H596 M614,529.3H688 M630.3,517V538 M630.3,542V562.7H789.3 M663.5,529.3V538 M663.5,542V562.7 M714.5,554V570 M740.8,520H789.3 M740.8,530.7H755.6V520 M755.6,530.7V538 M755.6,542V562.7 M789.3,516.3V538 M789.3,542V562.7"/>
<use href="#ind" x="596" y="529.3"/><use href="#cv" x="630.3" y="538"/><use href="#cv" x="663.5" y="538"/><use href="#cv" x="755.6" y="538"/><use href="#cv" x="789.3" y="538"/>
<use href="#d" x="630.3" y="529.3"/><use href="#d" x="663.5" y="529.3"/><use href="#d" x="663.5" y="562.7"/><use href="#d" x="714.5" y="562.7"/><use href="#d" x="755.6" y="562.7"/><use href="#d" x="755.6" y="520"/><use href="#d" x="789.3" y="520"/><use href="#d" x="755.6" y="530.7"/>
<use href="#gnd" x="714.5" y="569"/>
<text class="t" x="578" y="528">L2</text><text class="t" x="614" y="528">FB/1608</text>
<text class="t" x="637" y="545">C5</text><text class="t" x="637" y="553">10uF</text>
<text class="t" x="671" y="545">C4</text><text class="t" x="671" y="553">0.1uF</text>
<rect class="ic" x="688" y="512.7" width="52.8" height="41.3"/>
<text class="t" x="689" y="510">N3</text><text class="t" x="706" y="510">AMS1117-3.3</text>
<text class="sm" x="690" y="519">SOT-223</text><text class="i" x="714" y="525">VOUT</text><text class="i" x="692" y="533">VIN</text><text class="i" x="719" y="533">Vout</text>
<text class="i" transform="translate(717,552) rotate(-90)">GND</text>
<g class="p"><text x="679" y="527">3</text><text x="746" y="518">2</text><text x="746" y="529">4</text></g>
<text class="t" x="781" y="508">3.3Vstb</text><use href="#o" x="789.3" y="513.3"/>
<text class="t" x="764" y="545">C7</text><text class="t" x="764" y="553">10uF</text>
<text class="t" x="798" y="545">C6</text><text class="t" x="798" y="553">0.1uF</text>
<text class="bm" x="723" y="573">SOT-223</text>

<!-- ============ 1.5V DDR3 ============ -->
<text class="S" x="50" y="624" textLength="102">1.5V Power_DDR3</text>
<rect class="bx" x="50" y="629" width="488" height="110"/>
<text class="t" x="61" y="659">+5V</text><use href="#o" x="66.8" y="665"/>
<text class="t" x="90" y="651">33V_Normal</text><use href="#o" x="108" y="657.3"/>
<path class="w" d="M66.8,668V680H100 M118,680H158 M180,680H252.6 M108,660.3V662.7H168.4 M186.4,662.7H228V680 M192,680V690 M192,694V712.7H228V694 M228,680V690 M279,705V713.3H455.3 M302.6,671H455.3 M302.6,680H321V671 M321,680V684 M321,706V713.3 M379,668V690 M379,695V713.3 M422,671V690 M422,694V713.3 M455.3,671V690 M455.3,694V713.3"/>
<use href="#ind" x="100" y="680"/><use href="#rh" x="158" y="680"/><use href="#ind" x="168.4" y="662.7"/><use href="#cv" x="192" y="690"/><use href="#cv" x="228" y="690"/><use href="#rv" x="321" y="684"/><use href="#cp" x="379" y="690"/><use href="#cv" x="422" y="690"/><use href="#cv" x="455.3" y="690"/>
<polyline points="331,713 335,710 338,716 341,710 344,716 347,710 350,716 353,712 366,704" fill="none" stroke="#0000ff" stroke-width="1"/>
<path d="M347,703V727 M351,703V727" stroke="#0000ff" stroke-width="1.5"/>
<use href="#d" x="192" y="680"/><use href="#d" x="228" y="680"/><use href="#d" x="321" y="671"/><use href="#d" x="321" y="680"/><use href="#d" x="379" y="671"/><use href="#d" x="422" y="671"/><use href="#d" x="321" y="713.3"/><use href="#d" x="379" y="713.3"/><use href="#d" x="422" y="713.3"/><use href="#d" x="192" y="712.7"/>
<use href="#gnd" x="192" y="712.7"/><use href="#gnd" x="379" y="713.3"/>
<text class="t" x="84" y="678">L4</text><text class="t" x="118" y="678">FB/2012</text><text class="t" x="152" y="677">R20</text><text class="t" x="179" y="677">2R/2W</text>
<text class="t" x="152" y="661">L52</text><text class="t" x="186" y="661">NC/FB/2012</text>
<text class="t" x="202" y="696">C15</text><text class="t" x="202" y="704">10uF</text>
<text class="t" x="236" y="696">C16</text><text class="t" x="236" y="704">0.1uF</text>
<rect class="ic" x="252.6" y="664" width="50" height="41"/>
<text class="t" x="253" y="661">N7</text><text class="t" x="270" y="661">AP1084-ADJ</text>
<text class="sm" x="254" y="670">SOT-223</text><text class="sm" x="254" y="677">TO-263</text>
<text class="i" x="281" y="675">VOUT</text><text class="i" x="256" y="685">VIN</text><text class="i" x="285" y="685">Vout</text>
<text class="i" transform="translate(283,703) rotate(-90)">GND</text>
<g class="p"><text x="245" y="678">3</text><text x="308" y="669">3</text><text x="308" y="679">4</text></g>
<text class="t" x="329" y="689">R23</text><text class="t" x="329" y="697">1K/1%</text>
<text class="t" x="329" y="704">R24</text><text class="t" x="354" y="704">220R/1%</text>
<text class="t" x="329" y="712">C23</text><text class="t" x="354" y="712">2.2uF</text>
<text class="t" x="357" y="655">+1.5V_DDR3</text><use href="#o" x="379" y="665"/>
<text class="t" x="389" y="696">CA19</text><text class="t" x="372" y="704">100uF/16V</text>
<text class="t" x="429" y="696">C94</text><text class="t" x="429" y="704">10uF</text>
<text class="t" x="463" y="696">C19</text><text class="t" x="463" y="704">0.1uF</text>
<text class="bm" x="245" y="725">TO-263</text>

<!-- ============ 3.3V NORMAL ============ -->
<text class="S" x="554" y="624" textLength="109">3.3V Power_Normal</text>
<rect class="bx" x="554" y="629" width="303" height="110"/>
<text class="t" x="561" y="660">+5V</text><use href="#o" x="569.8" y="665"/>
<path class="w" d="M569.8,668V680H593.5 M611.5,680H688 M630.3,680V690 M630.3,694V723 M663.5,680V690 M663.5,694V723 M663.5,712.7H797.9 M714.5,705V712.7 M740.8,671H831 M740.8,680H747V671 M764.5,671V690 M764.5,694V723 M797.9,660V690 M797.9,694V723 M831,671V690 M831,695V712"/>
<use href="#ind" x="593.5" y="680"/><use href="#cv" x="630.3" y="690"/><use href="#cv" x="663.5" y="690"/><use href="#cv" x="764.5" y="690"/><use href="#cv" x="797.9" y="690"/><use href="#cp" x="831" y="690"/>
<use href="#d" x="630.3" y="680"/><use href="#d" x="663.5" y="680"/><use href="#d" x="663.5" y="712.7"/><use href="#d" x="714.5" y="712.7"/><use href="#d" x="764.5" y="712.7"/><use href="#d" x="797.9" y="712.7"/><use href="#d" x="747" y="671"/><use href="#d" x="756.6" y="671"/><use href="#d" x="797.9" y="671"/>
<use href="#gnd" x="630.3" y="722"/><use href="#gnd" x="663.5" y="722"/><use href="#gnd" x="764.5" y="722"/><use href="#gnd" x="797.9" y="722"/>
<text class="t" x="578" y="678">L3</text><text class="t" x="614" y="678">FB/2012</text>
<text class="t" x="637" y="696">C11</text><text class="t" x="637" y="704">10uF</text>
<text class="t" x="671" y="696">C12</text><text class="t" x="671" y="704">0.1uF</text>
<rect class="ic" x="688" y="664" width="52.8" height="41"/>
<text class="t" x="689" y="652">N5</text><text class="t" x="705" y="652">AP1084-3.3V</text>
<text class="t" x="689" y="661">N4</text><text class="t" x="705" y="661">NC/AMS1117-3.3</text>
<text class="sm" x="690" y="670">SOT-223</text><text class="i" x="714" y="675">VOUT</text><text class="i" x="693" y="685">VIN</text><text class="i" x="718" y="685">Vout</text>
<text class="i" transform="translate(717,703) rotate(-90)">GND</text>
<g class="p"><text x="679" y="678">3</text><text x="746" y="669">2</text><text x="746" y="679">4</text></g>
<text class="t" x="780" y="652">33V_Normal</text><use href="#o" x="797.9" y="657"/>
<text class="t" x="772" y="696">C97</text><text class="t" x="772" y="704">22uF</text>
<text class="t" x="805" y="696">C14</text><text class="t" x="805" y="704">0.1uF</text>
<text class="t" x="838" y="696">CA18</text>
<text class="t" transform="translate(845,738) rotate(-90)">330uF/6.3V</text>
<text class="bm" x="681" y="726">TO-252</text><text class="bm" x="681" y="735">SOT-223</text>

<!-- ============ 2.5V ============ -->
<text class="S" x="50" y="758" textLength="126">2.5V FOR 6I78 &amp; 8G80</text>
<rect class="bx" x="50" y="764" width="295" height="100"/>
<text class="t" x="66" y="786">+5V</text><use href="#o" x="75.3" y="791.7"/>
<path class="w" d="M75.3,794.7V806H100 M118,806H193 M134.2,806V815 M134.2,819V840H295.8 M168.4,806V815 M168.4,819V840 M218.4,831V850 M244.7,797.3H295.8 M244.7,806H260.5V797.3 M260.5,806V815 M260.5,819V840 M295.8,794.7V815 M295.8,819V840"/>
<use href="#ind" x="100" y="806"/><use href="#cv" x="134.2" y="815"/><use href="#cv" x="168.4" y="815"/><use href="#cv" x="260.5" y="815"/><use href="#cv" x="295.8" y="815"/>
<use href="#d" x="134.2" y="806"/><use href="#d" x="168.4" y="806"/><use href="#d" x="168.4" y="840"/><use href="#d" x="218.4" y="840"/><use href="#d" x="260.5" y="840"/><use href="#d" x="260.5" y="797.3"/><use href="#d" x="260.5" y="806"/><use href="#d" x="295.8" y="797.3"/>
<use href="#gnd" x="218.4" y="849"/>
<text class="t" x="84" y="805">L7</text><text class="t" x="118" y="805">FB/1608</text>
<text class="t" x="144" y="822">C29</text><text class="t" x="144" y="830">10uF</text>
<text class="t" x="177" y="822">C30</text><text class="t" x="177" y="830">0.1uF</text>
<rect class="ic" x="193" y="788.3" width="51.7" height="42.7"/>
<text class="t" x="195" y="787">N19 AMS1117-2.5</text>
<text class="sm" x="195" y="796">SOT-223</text><text class="i" x="220" y="801">VOUT</text><text class="i" x="197" y="810">VIN</text><text class="i" x="225" y="810">Vout</text>
<text class="i" transform="translate(221,828) rotate(-90)">GND</text>
<g class="p"><text x="184" y="805">3</text><text x="249" y="796">2</text><text x="249" y="805">4</text></g>
<text class="t" x="285" y="787">+2.5V_Normal</text><use href="#o" x="295.8" y="791.7"/>
<text class="t" x="271" y="822">C31</text><text class="t" x="271" y="830">10uF</text>
<text class="t" x="305" y="822">C32</text><text class="t" x="305" y="830">0.1uF</text>
<text class="bm" x="237" y="850">SOT-223</text>

<!-- ============ MARKS ============ -->
<text class="t" x="51" y="889">M7</text><use href="#mk" x="60.5" y="900"/><text class="t" x="51" y="915">MARK</text>
<text class="t" x="84" y="889">M8</text><use href="#mk" x="93.3" y="900"/><text class="t" x="84" y="915">MARK</text>
<text class="t" x="118" y="889">M9</text><use href="#mk" x="126.3" y="900"/><text class="t" x="118" y="915">MARK</text>
<text class="t" x="151.5" y="889">LABQC1</text><rect x="151" y="890.7" width="25.7" height="16" fill="none" stroke="#0000ff" stroke-width="1.2"/>
<text x="152.5" y="899" style="font-family:'Liberation Serif',serif;font-size:8px;font-weight:bold;fill:#0000ff">Label</text><text class="t" x="151.5" y="915">TX</text>
<text class="t" x="193" y="897">AR1</text>
<path d="M193.3,898.3H210.7V906.7H193.3Z M210.7,890L226.7,902.5L210.7,915Z" fill="none" stroke="#0000ff" stroke-width="1.2"/>
<text x="193" y="924" style="font-family:'Liberation Serif',serif;font-size:8px;fill:#0000ff">ARROW</text>
<text class="t" x="244" y="897">AR2</text>
<path d="M244,898.3H260V906.7H244Z M260,890L277.3,902.5L260,915Z" fill="none" stroke="#0000ff" stroke-width="1.2"/>
<text x="244" y="924" style="font-family:'Liberation Serif',serif;font-size:8px;fill:#0000ff">ARROW</text>
<text class="t" x="51" y="930">M10</text><use href="#mk" x="60.5" y="941"/><text class="t" x="51" y="956">MARK</text>
<text class="t" x="84" y="930">M11</text><use href="#mk" x="93.3" y="941"/><text class="t" x="84" y="956">MARK</text>
<text class="t" x="118" y="930">M12</text><use href="#mk" x="126.3" y="941"/><text class="t" x="118" y="956">MARK</text>
<text class="t" x="151.5" y="930">LABMES1</text><rect x="151" y="932.7" width="25.7" height="16.6" fill="none" stroke="#0000ff" stroke-width="1.2"/>
<text x="152.5" y="941" style="font-family:'Liberation Serif',serif;font-size:8px;font-weight:bold;fill:#0000ff">Label</text><text class="t" x="151.5" y="956">MES</text>
<text class="t" x="193" y="930">AR3</text>
<path d="M193.3,932.7H210.7V940.7H193.3Z M210.7,925L226.7,937.5L210.7,950Z" fill="none" stroke="#0000ff" stroke-width="1.2"/>
<text x="193" y="957" style="font-family:'Liberation Serif',serif;font-size:8px;fill:#0000ff">ARROW</text>

<!-- ============ 3.3V FROM DC-DC ============ -->
<text class="S" x="370" y="758" textLength="185">3.3V Power_Normal From DC-DC</text>
<rect class="bx" x="370" y="764" width="487" height="134"/>
<text class="t" x="377" y="777">+12V</text><use href="#o" x="386.8" y="783.3"/>
<path class="w" d="M386.8,786.3V814.3H409.5 M433.5,814.3H521.6 M386.8,797.3H455 M477,797.3H521.6 M428,779.3H455 M477,779.3H496.3V797.3 M446.3,814.3V833 M446.3,837V856.7H504.2 M480.5,814.3V833 M480.5,837V856.7 M504.2,831.7V865 M504.2,831.7H521.6 M504.2,848.3H521.6"/>
<path d="M423,774V785 M425.5,776V783 M428,772V787" stroke="#e03a3a" stroke-width="1"/>
<use href="#ind4" x="409.5" y="814.3"/><use href="#rh" x="455" y="797.3"/><use href="#rh" x="455" y="779.3"/><use href="#cv" x="446.3" y="833"/><use href="#cv" x="480.5" y="833"/>
<use href="#d" x="386.8" y="797.3"/><use href="#d" x="496.3" y="797.3"/><use href="#d" x="446.3" y="814.3"/><use href="#d" x="480.5" y="814.3"/><use href="#d" x="504.2" y="848.3"/><use href="#d" x="504.2" y="856.7"/>
<use href="#gnd" x="504.2" y="864"/>
<text class="t" x="396" y="813">L20</text><text class="t" x="438" y="813">NC/FB/2012</text>
<text class="t" x="438" y="780">R33</text><text class="t" x="473" y="778">100K</text>
<text class="t" x="438" y="797">R36</text><text class="t" x="473" y="795">100K</text>
<text class="t" x="455" y="839">C26</text><text class="t" x="452" y="847">NC/10uF/16V</text>
<text class="t" x="489" y="839">C24</text><text class="t" x="489" y="847">0.1uF</text>
<rect class="ic" x="521.6" y="790" width="59" height="66.7"/>
<text class="t" x="522" y="788">N38</text><text class="t" x="546" y="788">NC/AOZ1046</text>
<text class="i" x="526" y="800">EN</text><text class="i" x="526" y="817">Vin</text><text class="i" x="526" y="834">AGND</text><text class="i" x="526" y="851">PGND</text>
<text class="i" x="577" y="800" text-anchor="end">LX</text><text class="i" x="577" y="817" text-anchor="end">LX</text><text class="i" x="577" y="834" text-anchor="end">FB</text><text class="i" x="577" y="851" text-anchor="end">COMP</text>
<g class="p"><text x="514" y="796">6</text><text x="514" y="813">2</text><text x="514" y="830">3</text><text x="514" y="847">1</text><text x="586" y="796">7</text><text x="586" y="813">8</text><text x="586" y="830">4</text><text x="586" y="847">5</text></g>
<path class="w" d="M580.6,797.3H614.7 M638.7,797.3H772.6 M796.6,797.3H809.5V786.3 M580.6,814.3H605.8V797.3 M674.2,797.3V807 M674.2,829V839 M674.2,861V875 M580.6,831.7H674.2 M707.9,797.3V825.7 M707.9,829.7V864.3H742.1 M742.1,794.7V825.7 M742.1,829.7V873 M580.6,848.3H613 M635,848.3H638.4V860 M599,848.3V860 M599,864V882 M638.4,864V873.3H599"/>
<use href="#ind4" x="614.7" y="797.3"/><use href="#ind4" x="772.6" y="797.3"/><use href="#rv" x="674.2" y="807"/><use href="#rv" x="674.2" y="839"/><use href="#cp" x="707.9" y="825.7"/><use href="#cv" x="742.1" y="825.7"/><use href="#rh" x="613" y="848.3"/><use href="#cv" x="599" y="860"/><use href="#cv" x="638.4" y="860"/>
<use href="#d" x="605.8" y="797.3"/><use href="#d" x="674.2" y="797.3"/><use href="#d" x="707.9" y="797.3"/><use href="#d" x="742.1" y="797.3"/><use href="#d" x="674.2" y="831.7"/><use href="#d" x="742.1" y="864.3"/><use href="#d" x="599" y="848.3"/><use href="#d" x="599" y="873.3"/>
<use href="#gnd" x="674.2" y="874"/><use href="#gnd" x="742.1" y="872"/><use href="#gnd" x="599" y="881"/>
<text class="t" x="616" y="788">L14</text><text class="t" x="632" y="788">NC/10uH/2A</text>
<text x="673" y="791" style="font-family:'Liberation Mono',monospace;font-size:11px;fill:#ff3030">1000mA</text>
<text class="t" x="729" y="788">+3.3_MAIN</text><use href="#o" x="742.1" y="791.7"/>
<text class="t" x="760" y="796">L29</text><text class="t" x="802" y="796">NC/FB/2012</text>
<text class="t" x="791" y="777">33V_Normal</text><use href="#o" x="809.5" y="783.3"/>
<text class="t" x="682" y="810">R34</text><text class="t" x="682" y="818">7K15/1%</text>
<text class="t" x="682" y="848">R27</text><text class="t" x="682" y="856">12K1/1%</text>
<text class="t" x="716" y="830">C41</text><text class="t" x="716" y="838">NC/22uF</text>
<text class="t" x="750" y="830">C35</text><text class="t" x="750" y="838">0.1uF</text>
<text class="t" x="607" y="846">R28</text><text class="t" x="633" y="845">68K</text>
<text class="t" x="607" y="865">C40</text><text class="t" x="606" y="873">NC/102</text>
<text class="t" x="648" y="865">C34</text><text class="t" x="648" y="873">102</text>
<text x="430" y="885" textLength="153" style="font-family:'Liberation Mono',monospace;font-size:13px;fill:#222">Vout=0.8*(R1+R2)/R2</text>

<!-- ============ POWER FOR USB ============ -->
<text class="T" x="899" y="624" textLength="188">Power for USB</text>
<rect class="bx" x="899" y="629" width="429" height="227"/>
<text class="t" x="1190" y="643">5V_USB1</text><use href="#o" x="1209.3" y="649.3"/>
<path class="w" d="M1033.3,662.3H1141.7 M1159.7,662.3H1228.3 M1250.3,662.3H1285 M1209.3,652.3V764 M1268.3,662.3V668 M1268.3,690V696 M998.3,668.7V706.7 M998.3,710.7V728 M998.3,688.3H1134.3 M1033.3,662.3V698 M1033.3,720V789.7 M1058.3,688.3V698 M1058.3,720V747.3H1083.3 M1105.3,747.3H1126V773 M1091.7,688.3V706.7 M1091.7,710.7V730 M1058.3,730H1126V713.3H1134.3 M1117.7,688.3V705H1134.3 M1117.7,696.7H1134.3 M1185,688.3H1209.3 M1185,696.7H1209.3 M1185,705H1209.3 M1185,713.3H1276.7 M1243.3,713.3V733.3 M1243.3,737.3V773 M1276.7,713.3V733.3 M1276.7,737.3V764H1209.3 M1209.3,764V773 M1126,789V800"/>
<use href="#ind" x="1141.7" y="662.3"/><use href="#rh" x="1228.3" y="662.3"/><use href="#rv" x="1268.3" y="668"/><use href="#cv" x="998.3" y="706.7"/><use href="#rv" x="1033.3" y="698"/><use href="#rv" x="1058.3" y="698"/><use href="#cv" x="1091.7" y="706.7"/><use href="#rh" x="1083.3" y="747.3"/>
<use href="#cv" x="1209.3" y="733.3"/><use href="#cv" x="1243.3" y="733.3"/><use href="#cv" x="1276.7" y="733.3"/>
<use href="#d" x="1209.3" y="662.3"/><use href="#d" x="1268.3" y="662.3"/><use href="#d" x="998.3" y="688.3"/><use href="#d" x="1033.3" y="688.3"/><use href="#d" x="1058.3" y="688.3"/><use href="#d" x="1091.7" y="688.3"/><use href="#d" x="1117.7" y="688.3"/><use href="#d" x="1117.7" y="696.7"/><use href="#d" x="1058.3" y="730"/><use href="#d" x="1091.7" y="730"/>
<use href="#d" x="1209.3" y="688.3"/><use href="#d" x="1209.3" y="696.7"/><use href="#d" x="1209.3" y="705"/><use href="#d" x="1209.3" y="713.3"/><use href="#d" x="1243.3" y="713.3"/><use href="#d" x="1209.3" y="764"/><use href="#d" x="1243.3" y="764"/>
<use href="#gnd" x="1268.3" y="695"/><use href="#gnd" x="998.3" y="727"/><use href="#gnd" x="1209.3" y="772"/><use href="#gnd" x="1243.3" y="772"/><use href="#gnd" x="1126" y="799"/>
<text class="t" x="1126" y="660">L51</text><text class="t" x="1160" y="660">NC/FB/3216</text>
<text class="t" x="1219" y="660">R580</text><text class="t" x="1252" y="660">NC/51K</text>
<use href="#cr" x="1285" y="662.3"/><text class="n" x="1295" y="666">USB1_OCD</text><text class="n" x="1342" y="666">2</text>
<text class="t" x="1277" y="677">R583</text><text class="t" x="1277" y="686">100K</text>
<text class="t" x="992" y="659">+5V</text><use href="#o" x="998.3" y="665.7"/>
<text class="t" x="1008" y="713">C428</text><text class="t" x="1008" y="721">0.1uF</text>
<text class="t" x="1041" y="713">R582</text><text class="t" x="1041" y="721">10K</text>
<text class="t" x="1067" y="713">R581</text><text class="t" x="1067" y="721">20K</text>
<text class="t" x="1100" y="713">C427</text><text class="t" x="1100" y="721">1uF</text>
<rect class="ic" x="1134.3" y="680.7" width="50.7" height="41.6"/>
<text class="t" x="1134" y="678">N35</text><text class="t" x="1160" y="678">AO4459</text>
<text class="i" x="1138" y="691">S1</text><text class="i" x="1138" y="699.5">S2</text><text class="i" x="1138" y="708">S3</text><text class="i" x="1138" y="716.5">G2</text>
<text class="i" x="1181" y="691" text-anchor="end">D1</text><text class="i" x="1181" y="699.5" text-anchor="end">D2</text><text class="i" x="1181" y="708" text-anchor="end">D3</text><text class="i" x="1181" y="716.5" text-anchor="end">D4</text>
<g class="p"><text x="1126" y="687">1</text><text x="1126" y="695.5">2</text><text x="1126" y="704">3</text><text x="1126" y="712.5">4</text><text x="1191" y="687">8</text><text x="1191" y="695.5">7</text><text x="1191" y="704">6</text><text x="1191" y="712.5">5</text></g>
<text class="t" x="1218" y="739">C429</text><text class="t" x="1218" y="747">10uF</text>
<text class="t" x="1252" y="739">C426</text><text class="t" x="1252" y="747">10uF</text>
<text class="t" x="1285" y="739">C430</text><text class="t" x="1285" y="747">0.1uF</text>
<text class="t" x="1067" y="746">R584</text><text class="t" x="1108" y="746">4K7</text>
<text class="n" x="905" y="741">2  ON_USB1</text><use href="#cr" x="958" y="738.3"/>
<path class="w" d="M966.7,738.3H982.7V764H916V797.7H926.7 M948.7,797.7H1018.3 M966,781H991.7 M1013.7,781H1060 M1082,781H1111 M966,781V803 M966,825V840 M1000,797.7V808.3 M1000,812.3V840 M1033.3,805.7V824H1000"/>
<use href="#rh" x="926.7" y="797.7"/><use href="#rh" x="991.7" y="781"/><use href="#rh" x="1060" y="781"/><use href="#rv" x="966" y="803"/><use href="#cv" x="1000" y="808.3"/>
<use href="#npn" x="1119" y="781"/><use href="#npn" x="1026.3" y="797.7"/>
<use href="#d" x="966" y="797.7"/><use href="#d" x="1000" y="797.7"/><use href="#d" x="1033.3" y="781"/><use href="#d" x="1000" y="824"/>
<use href="#gnd" x="966" y="839"/><use href="#gnd" x="1000" y="839"/>
<text class="n" x="918" y="762">ON_USB1</text>
<text class="t" x="916" y="796">R587</text><text class="t" x="950" y="796">1K</text><text class="p" x="1007" y="795">1</text>
<text class="t" x="975" y="779">R585</text><text class="t" x="1016" y="779">NC</text>
<text class="t" x="1051" y="779">R586</text><text class="t" x="1085" y="779">0R</text><text class="p" x="1101" y="779">1</text>
<text class="t" x="1134" y="778">V49</text><text class="t" x="1134" y="786">3904</text>
<text class="t" x="1042" y="804">V50</text><text class="t" x="1042" y="813">3904</text>
<text class="t" x="975" y="813">R225</text><text class="t" x="975" y="821">10K</text>
<text class="t" x="1008" y="813">C431</text><text class="t" x="1008" y="822">0.1uF</text>

<!-- ============ TITLE BLOCK ============ -->
<g fill="none" stroke="#111" stroke-width="1.2">
<rect x="1077.5" y="897" width="303" height="76"/>
<path d="M1077.5,915H1380.5 M1077.5,940H1380.5 M1077.5,965H1380.5 M1103,940V965 M1355,940V965 M1245,965V973"/>
</g>
<path d="M1105,973V982" stroke="#888" stroke-width="1"/>
<text x="1079" y="921" style="font-family:'Liberation Sans',sans-serif;font-size:6px;fill:#111">Title</text>
<text x="1109" y="932" textLength="94" style="font-family:'Liberation Sans',sans-serif;font-size:17px;font-weight:bold;fill:#0000ff">MST6I78ZX</text>
<text x="1079" y="946" style="font-family:'Liberation Sans',sans-serif;font-size:6px;fill:#111">Size</text>
<text x="1085" y="954" style="font-family:'Liberation Sans',sans-serif;font-size:6.5px;fill:#111">A3</text>
<text x="1112" y="946" style="font-family:'Liberation Sans',sans-serif;font-size:6.5px;fill:#111">Document Number</text>
<text x="1109" y="961" textLength="85" style="font-family:'Liberation Sans',sans-serif;font-size:12.5px;font-weight:bold;fill:#0000ff">System Power</text>
<text x="1357" y="946" style="font-family:'Liberation Sans',sans-serif;font-size:6px;fill:#111">Rev</text>
<text x="1363" y="955" style="font-family:'Liberation Sans',sans-serif;font-size:7px;fill:#111">1.0</text>
<text x="1079" y="971" style="font-family:'Liberation Sans',sans-serif;font-size:6.5px;fill:#111">Date:</text>
<text x="1122" y="971" style="font-family:'Liberation Sans',sans-serif;font-size:6.5px;fill:#111">Wednesday, March 17, 2010</text>
<text x="1246" y="971" style="font-family:'Liberation Sans',sans-serif;font-size:6.5px;fill:#111">Sheet</text>
<text x="1288" y="971" style="font-family:'Liberation Sans',sans-serif;font-size:6.5px;fill:#111">1</text>
<text x="1313" y="971" style="font-family:'Liberation Sans',sans-serif;font-size:6.5px;fill:#111">of</text>
<text x="1339" y="971" style="font-family:'Liberation Sans',sans-serif;font-size:6.5px;fill:#111">11</text>
</svg>
</body></html>
